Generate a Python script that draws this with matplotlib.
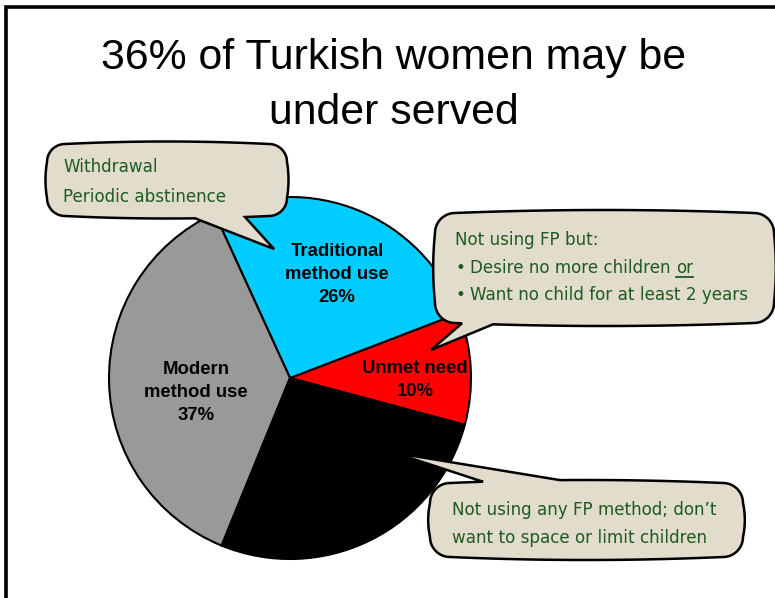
import numpy as np
import matplotlib
matplotlib.use("Agg")
import matplotlib.pyplot as plt
from matplotlib.patches import Polygon

# ---- data -------------------------------------------------------------
categories = ["Unmet need", "Traditional\nmethod use", "Modern\nmethod use", "No need"]
shares = [10, 26, 37, 27]
colors = ["#FF0000", "#00CCFF", "#999999", "#000000"]
show_label = [True, True, True, False]

title_lines = ["36% of Turkish women may be", "under served"]

note_traditional = ["Withdrawal", "Periodic abstinence"]
note_unmet_head = "Not using FP but:"
note_unmet_items = ["Desire no more children ", "Want no child for at least 2 years"]
note_unmet_emph = "or"
note_noneed = ["Not using any FP method; don\u2019t", "want to space or limit children"]

# ---- figure -----------------------------------------------------------
W, H = 775, 598
fig = plt.figure(figsize=(W / 100, H / 100), dpi=100)
fig.patch.set_facecolor("white")

# pie axes: centre (290, 378) px, radius 181 px
cx, cy, R = 290, 378, 181
ax = fig.add_axes([(cx - R) / W, (H - cy - R) / H, 2 * R / W, 2 * R / H])
wedges, _ = ax.pie(shares, colors=colors, startangle=-15, counterclock=True,
                   wedgeprops=dict(edgecolor="black", linewidth=1.5))
ax.set_xlim(-1, 1)
ax.set_ylim(-1, 1)
ax.set_aspect("equal")
ax.axis("off")

label_pos = [(0.69, -0.01), (0.26, 0.57), (-0.52, -0.08), None]
for cat, pct, pos, show in zip(categories, shares, label_pos, show_label):
    if not show:
        continue
    ax.text(pos[0], pos[1], f"{cat}\n{pct}%", ha="center", va="center",
            fontsize=13.3, fontweight="bold", family="Liberation Sans",
            linespacing=1.45, color="black", zorder=5)

# overlay axes in pixel units (y downward) for title, frame and callouts
ov = fig.add_axes([0, 0, 1, 1], zorder=10)
ov.set_xlim(0, W)
ov.set_ylim(H, 0)
ov.axis("off")

# slide frame
ov.plot([6, 6, W + 5], [H + 5, 6.5, 6.5], color="black", lw=2.6,
        solid_joinstyle="miter", clip_on=False)

# title
ov.text(394, 69, title_lines[0], ha="center", va="baseline",
        family="Liberation Sans", fontsize=30.8, color="black")
ov.text(394, 124, title_lines[1], ha="center", va="baseline",
        family="Liberation Sans", fontsize=30.8, color="black")


def callout(x0, y0, x1, y1, r, bulge, edge, xa, xb, tip):
    """Rounded, slightly bulging box with a wedge pointer on its top or bottom edge."""
    n = 80
    pts = []
    t = np.linspace(0, 1, n)

    def arc(xc, yc, a0, a1):
        a = np.radians(np.linspace(a0, a1, 20))
        return list(zip(xc + r * np.cos(a), yc + r * np.sin(a)))

    def horiz(xs, xe, yb, sign):
        xx = xs + t * (xe - xs)
        yy = yb + sign * bulge * 4 * t * (1 - t)
        return list(zip(xx, yy))

    def vert(ys, ye, xb_, sign):
        yy = ys + t * (ye - ys)
        xx = xb_ + sign * bulge * 0.6 * 4 * t * (1 - t)
        return list(zip(xx, yy))

    def with_pointer(seg, lo, hi, tip_pt):
        out, done = [], False
        forward = seg[-1][0] > seg[0][0]
        xs_ = np.array([p[0] for p in seg])
        ys_ = np.array([p[1] for p in seg])
        order = np.argsort(xs_)
        ya = np.interp(lo, xs_[order], ys_[order])
        yb = np.interp(hi, xs_[order], ys_[order])
        for (px, py) in seg:
            if lo < px < hi:
                if not done:
                    if forward:
                        out += [(lo, ya), tip_pt, (hi, yb)]
                    else:
                        out += [(hi, yb), tip_pt, (lo, ya)]
                    done = True
                continue
            out.append((px, py))
        return out

    top = horiz(x0 + r, x1 - r, y0, -1)
    bottom = horiz(x1 - r, x0 + r, y1, +1)
    if edge == "top":
        top = with_pointer(top, xa, xb, tip)
    else:
        bottom = with_pointer(bottom, xa, xb, tip)
    pts += top
    pts += arc(x1 - r, y0 + r, -90, 0)
    pts += vert(y0 + r, y1 - r, x1, +1)
    pts += arc(x1 - r, y1 - r, 0, 90)
    pts += bottom
    pts += arc(x0 + r, y1 - r, 90, 180)
    pts += vert(y1 - r, y0 + r, x0, -1)
    pts += arc(x0 + r, y0 + r, 180, 270)
    ov.add_patch(Polygon(pts, closed=True, facecolor="#E2DCCD",
                         edgecolor="black", lw=1.8, joinstyle="miter", zorder=3))


note_color = "#1F5A21"
note_font = dict(family="DejaVu Sans", fontsize=12.1, color=note_color,
                 va="baseline", ha="left", zorder=6)

# callout for traditional methods
callout(47, 144, 287, 216, 18, 2.5, "bottom", 195, 245, (274, 249))
ov.text(63, 172, note_traditional[0], **note_font)
ov.text(63, 202, note_traditional[1], **note_font)

# callout for unmet need
callout(435, 213, 774, 323, 20, 3, "bottom", 462, 493, (431, 350))
ov.text(455, 245, note_unmet_head, **note_font)
ov.text(455, 273, "\u2022", **note_font)
item1 = ov.text(470, 273, note_unmet_items[0], **note_font)
ov.text(455, 300, "\u2022", **note_font)
ov.text(470, 300, note_unmet_items[1], **note_font)

renderer = fig.canvas.get_renderer()
bb = item1.get_window_extent(renderer)
inv = ov.transData.inverted()
x_end = inv.transform((bb.x1, bb.y0))[0]
emph = ov.text(x_end, 273, note_unmet_emph, **note_font)
bb2 = emph.get_window_extent(renderer)
ex0 = inv.transform((bb2.x0, bb2.y0))[0]
ex1 = inv.transform((bb2.x1, bb2.y0))[0]
ov.plot([ex0, ex1], [276.5, 276.5], color=note_color, lw=1.3, zorder=6)

# callout for women with no need
callout(430, 483, 743, 557, 20, 3, "top", 483, 560, (395, 453))
ov.text(452, 515, note_noneed[0], **note_font)
ov.text(452, 543, note_noneed[1], **note_font)

fig.savefig("out.png", dpi=100, facecolor="white")
